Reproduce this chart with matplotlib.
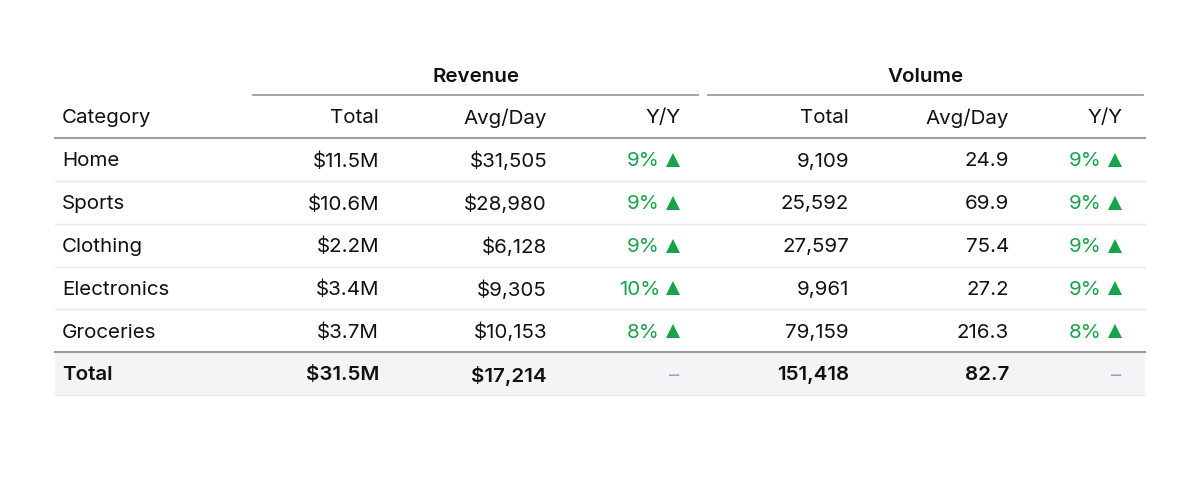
import matplotlib.pyplot as plt

# table data
categories = ["Home", "Sports", "Clothing", "Electronics", "Groceries"]
rev_total = ["$11.5M", "$10.6M", "$2.2M", "$3.4M", "$3.7M"]
rev_avg = ["$31,505", "$28,980", "$6,128", "$9,305", "$10,153"]
rev_yoy = ["9%", "9%", "9%", "10%", "8%"]
vol_total = ["9,109", "25,592", "27,597", "9,961", "79,159"]
vol_avg = ["24.9", "69.9", "75.4", "27.2", "216.3"]
vol_yoy = ["9%", "9%", "9%", "9%", "8%"]
total_row = ["Total", "$31.5M", "$17,214", "–", "151,418", "82.7", "–"]
col_labels = ["Category", "Total", "Avg/Day", "Y/Y", "Total", "Avg/Day", "Y/Y"]
groups = ["Revenue", "Volume"]

plt.rcParams['font.family'] = ['Inter', 'DejaVu Sans']

GREEN = "#16a34a"
DARK = "#111111"

fig = plt.figure(figsize=(12, 4.78), dpi=100)
ax = fig.add_axes([0, 0, 1, 1])
ax.set_xlim(0, 1200)
ax.set_ylim(478, 0)
ax.axis("off")

left, right = 55, 1145
cat_x = 62
col_right = [379, 547, 681, 849, 1009, 1123]
row_h = 42.8
header_y = 116
first_row = 159.5
fs = 14.8
VA = "center_baseline"

# spanners
spans = [(253, 698), (708, 1143)]
for name, (a, b) in zip(groups, spans):
    ax.text((a + b) / 2, 75, name, ha="center", va=VA, fontsize=fs,
            fontweight="semibold", color=DARK)
    ax.plot([a, b], [95, 95], color="#9e9e9e", lw=1.3)

# column labels
ax.text(cat_x, header_y, col_labels[0], ha="left", va=VA, fontsize=fs, color=DARK)
for lab, x in zip(col_labels[1:], col_right):
    ax.text(x, header_y, lab, ha="right", va=VA, fontsize=fs, color=DARK)
ax.plot([left, right], [138, 138], color="#9e9e9e", lw=1.5)

# body rows
for i, cat in enumerate(categories):
    y = first_row + i * row_h
    ax.text(cat_x, y, cat, ha="left", va=VA, fontsize=fs, color=DARK)
    vals = [rev_total[i], rev_avg[i], None, vol_total[i], vol_avg[i], None]
    for v, x in zip(vals, col_right):
        if v is not None:
            ax.text(x, y, v, ha="right", va=VA, fontsize=fs, color=DARK)
    for pct, x in [(rev_yoy[i], col_right[2]), (vol_yoy[i], col_right[5])]:
        ax.text(x - 21, y, pct, ha="right", va=VA, fontsize=fs, color=GREEN)
        ax.plot([x - 8], [y + 0.5], marker="^", markersize=9.5, color=GREEN,
                markeredgewidth=0, linestyle="none")
    if i < len(categories) - 1:
        ax.plot([left, right], [y + row_h / 2, y + row_h / 2], color="#e5e7eb", lw=1)

# total row
ty = first_row + len(categories) * row_h
ax.fill_between([left, right], ty - row_h / 2, ty + row_h / 2, color="#f3f4f6", lw=0)
ax.plot([left, right], [ty - row_h / 2, ty - row_h / 2], color="#9e9e9e", lw=1.5)
ax.plot([left, right], [ty + row_h / 2, ty + row_h / 2], color="#e5e7eb", lw=1)
ax.text(cat_x, ty, total_row[0], ha="left", va=VA, fontsize=fs,
        fontweight="semibold", color=DARK)
for v, x in zip(total_row[1:], col_right):
    if v == "–":
        ax.text(x - 2, ty, v, ha="right", va=VA, fontsize=fs, color="#9ca3af")
    else:
        ax.text(x, ty, v, ha="right", va=VA, fontsize=fs,
                fontweight="semibold", color=DARK)

fig.savefig("out.png", dpi=100, facecolor="white")
